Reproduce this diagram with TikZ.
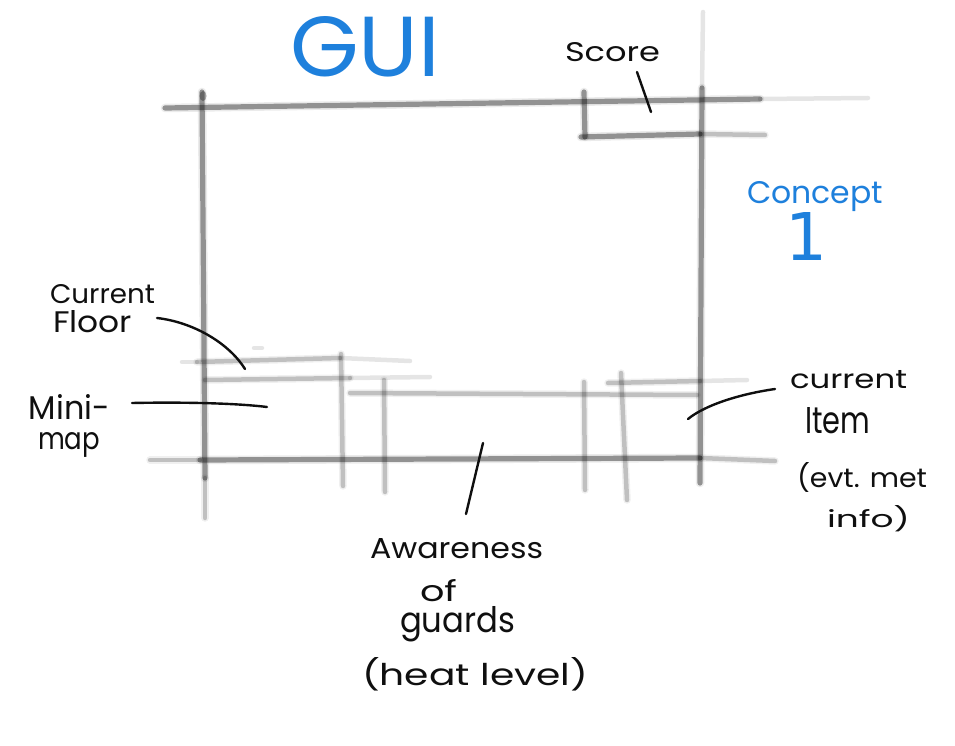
\documentclass[tikz,border=0pt]{standalone}
\usepackage{fontspec}
\setmainfont{Poppins}
\newfontfamily\onefont{DejaVu Sans}
\usepackage{graphicx}
\definecolor{sketchblue}{RGB}{30,128,220}
\definecolor{ink}{RGB}{15,15,15}
\tikzset{
  pen/.style={draw=ink, line width=2.4pt, line cap=round},
  grid/.style={draw=black, line width=5.2pt, line cap=round, opacity=0.38,
    preaction={draw=black, line width=8.5pt, line cap=round, opacity=0.08}},
  gridlight/.style={draw=black, line width=4.5pt, line cap=round, opacity=0.2,
    preaction={draw=black, line width=7.5pt, line cap=round, opacity=0.06}},
  gridfaint/.style={draw=black, line width=4.5pt, line cap=round, opacity=0.1},
  hw/.style={anchor=base west, inner sep=0pt, outer sep=0pt, text=ink},
  hwb/.style={anchor=base west, inner sep=0pt, outer sep=0pt, text=sketchblue},
}
\newcommand{\fitw}[3]{\resizebox{#1pt}{#2pt}{#3}}
\begin{document}
\begin{tikzpicture}[x=1pt,y=-1pt]
\useasboundingbox (0,0) rectangle (955,746);
% ---------- gray layout strokes ----------
% top bar
\path[grid] (165,108) -- (760,99);
\path[gridfaint] (760,99) -- (868,98);
% left vertical
\path[grid] (202,92) -- (205,478);
\path[gridlight] (205,478) -- (205,518);
\fill[black,opacity=0.3] (203,96) ellipse (3.5pt and 5pt);
% right vertical
\path[gridfaint] (703,12) -- (702,88);
\path[grid] (702,88) -- (700,483);
% score box
\path[grid] (584,92) -- (585,137);
\path[grid] (581,137) -- (700,134);
\path[gridlight] (700,134) -- (765,135);
% bottom bar
\path[gridlight] (150,460) -- (200,460);
\path[grid] (200,460) -- (700,458);
\path[gridlight] (700,458) -- (775,461);
% current floor lines
\path[gridfaint] (182,362) -- (197,362);
\path[gridlight] (197,362) -- (340,358);
\path[gridfaint] (340,358) -- (410,361);
\path[gridfaint] (254,348) -- (262,348);
\path[gridlight] (205,380) -- (350,378);
\path[gridfaint] (350,378) -- (430,377);
% awareness top
\path[gridlight] (350,393) -- (697,395);
% current item top
\path[gridlight] (608,383) -- (700,381);
\path[gridfaint] (700,381) -- (747,380);
% short verticals
\path[gridlight] (341,354) -- (343,486);
\path[gridlight] (384,380) -- (385,492);
\path[gridlight] (584,382) -- (585,490);
\path[gridlight] (621,373) -- (627,500);
% ---------- titles ----------
\node[hwb] (gui) at (290,77) {\fitw{150}{60}{GUI}};
\node[hwb] (concept) at (747,203) {\fitw{136}{22}{Concept}};
\node[hwb] (one) at (785,260) {\fitw{42}{48}{\onefont 1}};
% ---------- labels ----------
\node[hw] (score) at (565,62) {\fitw{95}{19}{Score}};
\node[hw] (cf1) at (50,303) {\fitw{105}{19}{Current}};
\node[hw] (cf2) at (53,332) {\fitw{79}{22}{Floor}};
\node[hw] (mm1) at (29,419) {\fitw{81}{25}{Mini-}};
\node[hw] (mm2) at (38,449) {\fitw{62}{17}{map}};
\node[hw] (ci1) at (790,388) {\fitw{117}{18}{current}};
\node[hw] (ci2) at (805,433) {\fitw{65}{26}{Item}};
\node[hw] (ci3) at (797,487) {\fitw{130}{25}{(evt. met}};
\node[hw] (ci4) at (827,527) {\fitw{83}{22}{info)}};
\node[hw] (aw1) at (370,558) {\fitw{173}{20}{Awareness}};
\node[hw] (aw2) at (420,601) {\fitw{37}{22}{of}};
\node[hw] (aw3) at (400,632) {\fitw{115}{26}{guards}};
\node[hw] (aw4) at (362,685) {\fitw{226}{28}{(heat level)}};
% ---------- connector ends ----------
\coordinate (scoreT) at (651,112);
\coordinate (floorT) at (245,369);
\coordinate (mapT) at (267,407);
\coordinate (itemT) at (688,419);
\coordinate (awT) at (483,443);
% ---------- connectors ----------
\draw[pen] ([shift={(72,10)}]score.base west) -- (scoreT);
\draw[pen] ([shift={(104,-14)}]cf2.base west) .. controls (192,322) and (228,342) .. (floorT);
\draw[pen] ([shift={(103,-16)}]mm1.base west) .. controls (180,402) and (235,403) .. (mapT);
\draw[pen] ([shift={(-15,1)}]ci1.base west) .. controls (740,394) and (705,405) .. (itemT);
\draw[pen] ([shift={(96,-44)}]aw1.base west) -- (awT);
\end{tikzpicture}
\end{document}
